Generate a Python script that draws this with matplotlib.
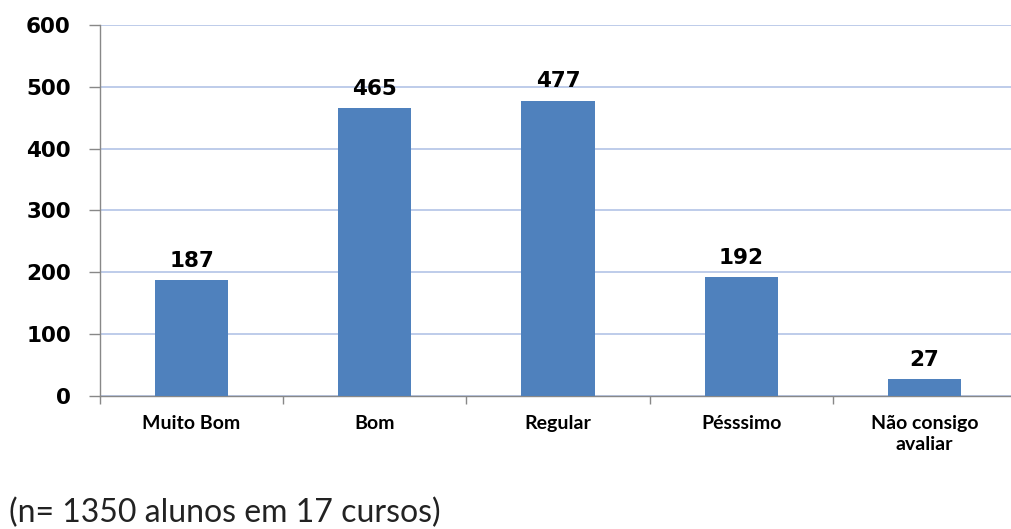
import matplotlib
matplotlib.use("Agg")
import matplotlib.pyplot as plt
import numpy as np

categories = ["Muito Bom", "Bom", "Regular", "Pésssimo", "Não consigo\navaliar"]
values = [187, 465, 477, 192, 27]
yticks = [0, 100, 200, 300, 400, 500, 600]
note = "(n= 1350 alunos em 17 cursos)"

W, H = 1011, 529
fig = plt.figure(figsize=(W / 100, H / 100), dpi=100)
ax = fig.add_axes([100 / W, (H - 396) / H, 916 / W, 371 / H])

x = np.arange(len(categories))
bars = ax.bar(x, values, width=0.40, color="#4f81bd", zorder=3)
ax.set_xlim(-0.5, len(categories) - 0.5)
ax.set_ylim(0, 600)
ax.set_yticks(yticks)
ax.set_yticklabels([str(t) for t in yticks], fontsize=15.5, fontweight="bold",
                   family="DejaVu Sans")
ax.yaxis.grid(True, color="#b3c4e6", linewidth=1.2, zorder=0)
ax.set_axisbelow(True)

ax.set_xticks(x)
ax.set_xticklabels(categories, fontsize=14, fontweight="bold", family="Lato",
                   linespacing=1.25, va="top")
ax.set_xticks(np.arange(len(categories) + 1) - 0.5, minor=True)
ax.tick_params(axis="x", which="major", length=0, pad=14)
ax.tick_params(axis="x", which="minor", length=6, color="#888888", width=1)
ax.tick_params(axis="y", length=8, color="#888888", width=1, pad=13)

for s in ["top", "right"]:
    ax.spines[s].set_visible(False)
for s in ["left", "bottom"]:
    ax.spines[s].set_color("#888888")
    ax.spines[s].set_linewidth(1)

for xi, v in zip(x, values):
    ax.annotate(str(v), (xi, v), xytext=(0, 7), textcoords="offset points",
                ha="center", va="bottom", fontsize=15.5, fontweight="bold",
                family="DejaVu Sans")

fig.text(9 / W, 1 - 513 / H, note, fontsize=23, family="Lato", color="#222222",
         ha="left", va="center")

fig.savefig("out.png", dpi=100)
